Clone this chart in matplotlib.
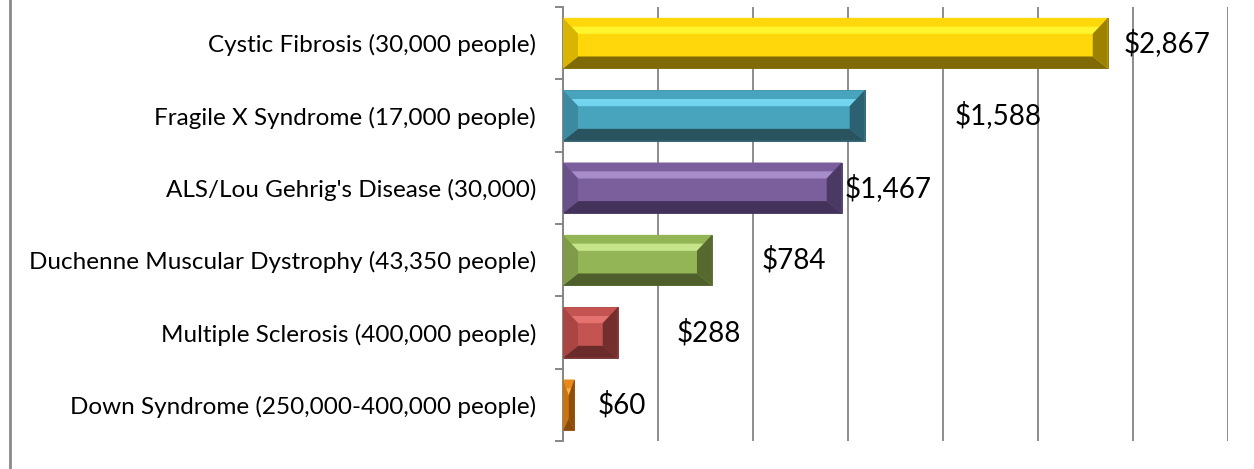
import matplotlib
matplotlib.use("Agg")
import matplotlib.pyplot as plt
from matplotlib.lines import Line2D
from matplotlib.patches import Polygon

categories = [
    "Cystic Fibrosis (30,000 people)",
    "Fragile X Syndrome (17,000 people)",
    "ALS/Lou Gehrig's Disease (30,000)",
    "Duchenne Muscular Dystrophy (43,350 people)",
    "Multiple Sclerosis (400,000 people)",
    "Down Syndrome (250,000-400,000 people)",
]
values = [2867, 1588, 1467, 784, 288, 60]
value_labels = ["$2,867", "$1,588", "$1,467", "$784", "$288", "$60"]

# where Excel dropped the data labels (left edge, in data units)
label_x = [2953, 2063, 1484, 1047, 600, 184]

# (top highlight, face, left bevel, right bevel, bottom bevel)
palette = [
    ("#FFF52E", "#FFD70A", "#D9B400", "#9C8200", "#806A05"),
    ("#72D4EE", "#48A3BC", "#3B8AA0", "#2B6170", "#28535F"),
    ("#A68CC8", "#7B5F9C", "#69528A", "#4A3962", "#43335A"),
    ("#C6E48A", "#94B556", "#7F9A48", "#58692F", "#4F5F2C"),
    ("#E4726F", "#C45451", "#A94543", "#722F2D", "#6A2B2A"),
    ("#FFB04A", "#E68A1C", "#C97412", "#8F4E0A", "#8A4A0A"),
]

W, H = 1254, 469
XMAX = 3500
fig = plt.figure(figsize=(W / 100, H / 100), dpi=100)
ax_left, ax_right, ax_top, ax_bot = 563, 1228, 7, 441
ax = fig.add_axes([ax_left / W, 1 - ax_bot / H, (ax_right - ax_left) / W, (ax_bot - ax_top) / H])

font = "Lato"
pos = list(range(len(categories)))
bar_h = 0.7

ax.barh(pos, values, height=bar_h, color=[p[1] for p in palette], zorder=2,
        edgecolor=[p[4] for p in palette], linewidth=0.6)

ax.set_xlim(0, XMAX)
ax.set_ylim(len(categories) - 0.5, -0.5)

# data units per pixel
sx = XMAX / (ax_right - ax_left)
sy = len(categories) / (ax_bot - ax_top)

# fake Excel bevel
for i, v in enumerate(values):
    light, face, lcol, rcol, dark = palette[i]
    yt = pos[i] - bar_h / 2
    yb = pos[i] + bar_h / 2
    bx = min(15 * sx, v / 2)
    bt = 16 * sy
    bb = 12 * sy
    x0, x1 = 0, v
    polys = [
        ([(x0, yt), (x1, yt), (x1 - bx * 0.55, yt + bt * 0.55), (x0 + bx * 0.55, yt + bt * 0.55)], face),
        ([(x0 + bx * 0.55, yt + bt * 0.55), (x1 - bx * 0.55, yt + bt * 0.55), (x1 - bx, yt + bt), (x0 + bx, yt + bt)], light),
        ([(x0, yb), (x1, yb), (x1 - bx, yb - bb), (x0 + bx, yb - bb)], dark),
        ([(x0, yt), (x0 + bx, yt + bt), (x0 + bx, yb - bb), (x0, yb)], lcol),
        ([(x1, yt), (x1 - bx, yt + bt), (x1 - bx, yb - bb), (x1, yb)], rcol),
    ]
    for pts, c in polys:
        ax.add_patch(Polygon(pts, closed=True, facecolor=c, edgecolor="none", zorder=3))
    ax.text(label_x[i], pos[i], value_labels[i], family=font, fontsize=20,
            va="center", ha="left", color="black", zorder=4)

ax.set_xticks(range(0, XMAX + 1, 500))
ax.tick_params(axis="x", length=0, labelbottom=False)
ax.grid(axis="x", color="#8C8C8C", linewidth=1.4, zorder=1)
ax.set_axisbelow(True)

ax.set_yticks(pos)
ax.set_yticklabels(categories, family=font, fontsize=17.5)
ax.set_yticks([p - 0.5 for p in pos] + [len(pos) - 0.5], minor=True)
ax.tick_params(axis="y", which="major", length=0, pad=19.5)
ax.tick_params(axis="y", which="minor", length=6, width=1.4, color="#868686", direction="out")

for s in ["top", "right", "bottom"]:
    ax.spines[s].set_visible(False)
ax.spines["left"].set_color("#868686")
ax.spines["left"].set_linewidth(1.4)

# chart frame edge
fig.add_artist(Line2D([9.5 / W, 9.5 / W], [0, 1], color="#8A8A8A", linewidth=2))

fig.savefig("out.png", dpi=100)
